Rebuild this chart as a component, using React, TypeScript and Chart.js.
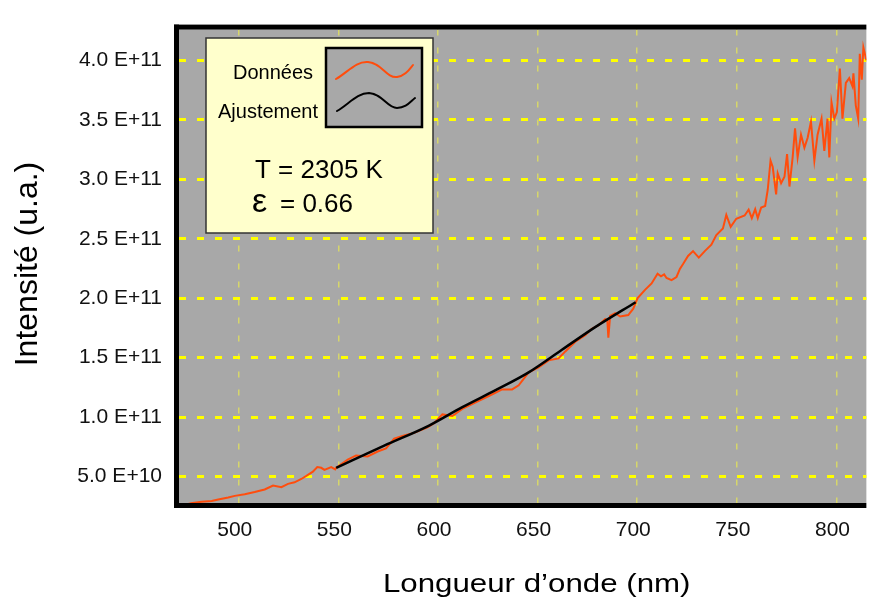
import React, { useEffect, useRef } from "react";
import { Chart, registerables } from "chart.js";

Chart.register(...registerables);

// ---------- data ----------
const UNIT = 1e11; // intensities below are in units of 1E+11

const DATA_NM = [
  470.0, 476.0, 481.4, 486.4, 489.7, 494.7, 498.0, 503.0, 508.0, 513.0,
  517.2, 521.4, 524.7, 528.0, 531.4, 534.7, 537.2, 539.4, 541.4, 543.0,
  546.4, 548.4, 548.9, 554.7, 558.9, 564.7, 569.7, 573.9, 578.0, 583.0,
  588.0, 594.7, 598.0, 602.2, 607.2, 612.2, 618.9, 625.5, 632.2, 637.2,
  640.5, 645.5, 650.5, 655.5, 660.5, 663.9, 668.9, 673.9, 677.2, 680.5,
  683.9, 685.0, 685.5, 686.4, 688.9, 691.4, 695.5, 698.0, 700.2, 703.9,
  707.2, 710.2, 711.9, 713.5, 714.7, 717.2, 719.7, 721.4, 723.0, 725.5,
  728.0, 730.9, 733.9, 737.2, 739.7, 743.0, 744.7, 746.9, 749.7, 753.9,
  755.9, 757.5, 759.2, 760.5, 762.2, 764.2, 765.5, 766.9, 768.0, 769.7,
  770.5, 772.2, 773.9, 775.2, 776.4, 778.0, 779.2, 780.5, 782.2, 783.9,
  785.5, 787.2, 788.9, 790.5, 792.5, 793.9, 795.5, 796.4, 797.5, 798.9,
  800.2, 801.7, 803.0, 804.7, 806.4, 808.0, 808.5, 809.7, 810.9, 811.7,
  812.7, 813.5, 815.0, 816.5,
];
const DATA_I = [
  0.250, 0.274, 0.288, 0.294, 0.307, 0.324, 0.337, 0.351, 0.369, 0.391,
  0.424, 0.410, 0.438, 0.451, 0.479, 0.514, 0.541, 0.579, 0.573, 0.555,
  0.579, 0.560, 0.573, 0.642, 0.677, 0.669, 0.710, 0.737, 0.818, 0.846,
  0.867, 0.914, 0.949, 1.022, 1.009, 1.069, 1.123, 1.177, 1.232, 1.232,
  1.267, 1.376, 1.417, 1.477, 1.493, 1.552, 1.634, 1.689, 1.743, 1.770,
  1.825, 1.811, 1.667, 1.852, 1.874, 1.846, 1.858, 1.911, 2.001, 2.070,
  2.124, 2.205, 2.184, 2.200, 2.170, 2.151, 2.178, 2.246, 2.287, 2.355,
  2.396, 2.341, 2.396, 2.450, 2.531, 2.586, 2.700, 2.600, 2.668, 2.695,
  2.744, 2.673, 2.749, 2.673, 2.763, 2.776, 2.912, 3.157, 3.103, 2.872,
  3.049, 2.967, 3.021, 3.212, 2.939, 3.184, 3.429, 3.184, 3.375, 3.266,
  3.347, 3.484, 3.157, 3.375, 3.510, 3.239, 3.510, 3.184, 3.647, 3.510,
  3.565, 3.932, 3.510, 3.810, 3.851, 3.783, 3.891, 3.620, 3.510, 4.055,
  3.837, 4.109, 4.000, 4.050,
];

const FIT_NM = [548.9, 573.0, 595.5, 612.2, 628.9, 645.5, 662.2, 678.9, 699.2];
const FIT_I = [0.573, 0.759, 0.928, 1.083, 1.226, 1.376, 1.566, 1.756, 1.966];

const X_TICKS = [500, 550, 600, 650, 700, 750, 800];
const Y_TICKS = [0.5, 1.0, 1.5, 2.0, 2.5, 3.0, 3.5, 4.0];
const Y_TICK_LABELS = [
  "5.0 E+10", "1.0 E+11", "1.5 E+11", "2.0 E+11",
  "2.5 E+11", "3.0 E+11", "3.5 E+11", "4.0 E+11",
];

const X_MIN = 470;
const X_MAX = 815;
const Y_MIN = 0.277;
const Y_MAX = 4.259;

const X_TITLE = "Longueur d\u2019onde (nm)";
const Y_TITLE = "Intensité (u.a.)";
const LEGEND_DATA = "Données";
const LEGEND_FIT = "Ajustement";
const T_TEXT = "T = 2305 K";
const EPS_SYMBOL = "ε";
const EPS_VALUE = "= 0.66";

// ---------- styles ----------
const FONT = "'Liberation Sans', Arial, Helvetica, sans-serif";
const PLOT_BG = "#A8A8A8";
const DATA_COLOR = "#FF4D0D";
const FIT_COLOR = "#000000";
const HGRID = "#FFFF00";
const VGRID = "#D6D66A";
const LEGEND_BG = "#FFFFCC";

const decorPlugin = {
  id: "decor",
  beforeDraw(chart: any) {
    const { ctx, chartArea: a } = chart;
    ctx.save();
    ctx.fillStyle = PLOT_BG;
    ctx.fillRect(a.left, a.top, a.right - a.left, a.bottom - a.top);
    ctx.restore();
  },
  afterDraw(chart: any) {
    const { ctx, chartArea: a } = chart;
    ctx.save();
    // frame (left, top, bottom)
    ctx.fillStyle = "#000";
    ctx.fillRect(a.left - 5, a.top - 5, a.right - a.left + 5, 5);
    ctx.fillRect(a.left - 5, a.top - 5, 5, a.bottom - a.top + 10);
    ctx.fillRect(a.left - 5, a.bottom, a.right - a.left + 5, 5);

    // axis titles
    ctx.fillStyle = "#000";
    ctx.textAlign = "center";
    ctx.textBaseline = "alphabetic";
    ctx.save();
    ctx.translate(536.7, 592);
    ctx.scale(1.25, 1);
    ctx.font = `25px ${FONT}`;
    ctx.fillText(X_TITLE, 0, 0);
    ctx.restore();

    ctx.save();
    ctx.translate(36.7, 264);
    ctx.rotate(-Math.PI / 2);
    ctx.font = `32px ${FONT}`;
    ctx.fillText(Y_TITLE, 0, 0);
    ctx.restore();

    // legend box
    ctx.fillStyle = LEGEND_BG;
    ctx.fillRect(206, 38, 227, 195);
    ctx.strokeStyle = "#333";
    ctx.lineWidth = 1.5;
    ctx.strokeRect(206, 38, 227, 195);

    // mini plot box
    ctx.fillStyle = PLOT_BG;
    ctx.fillRect(326, 48, 96, 79);
    ctx.strokeStyle = "#000";
    ctx.lineWidth = 2.5;
    ctx.strokeRect(326, 48, 96, 79);

    ctx.lineCap = "round";
    ctx.lineWidth = 2;
    ctx.strokeStyle = DATA_COLOR;
    ctx.beginPath();
    ctx.moveTo(336, 79);
    ctx.bezierCurveTo(348, 72, 356, 61, 368, 62);
    ctx.bezierCurveTo(382, 63, 386, 78, 397, 77);
    ctx.bezierCurveTo(405, 76, 409, 70, 413, 65);
    ctx.stroke();

    ctx.strokeStyle = FIT_COLOR;
    ctx.beginPath();
    ctx.moveTo(337, 111);
    ctx.bezierCurveTo(349, 104, 357, 93, 369, 93);
    ctx.bezierCurveTo(383, 94, 387, 108, 397, 108);
    ctx.bezierCurveTo(406, 108, 410, 102, 415, 98);
    ctx.stroke();

    // legend texts
    ctx.fillStyle = "#000";
    ctx.textAlign = "left";
    ctx.textBaseline = "alphabetic";
    ctx.font = `20px ${FONT}`;
    ctx.fillText(LEGEND_DATA, 233, 79);
    ctx.fillText(LEGEND_FIT, 218, 118.3);

    ctx.font = `26px ${FONT}`;
    ctx.fillText(T_TEXT, 255, 177.5);

    ctx.font = `34px ${FONT}`;
    ctx.fillText(EPS_SYMBOL, 252, 211.7);
    ctx.font = `26px ${FONT}`;
    ctx.fillText(EPS_VALUE, 280, 211.7);

    ctx.restore();
  },
};

export default function App() {
  const ref = useRef<HTMLCanvasElement | null>(null);

  useEffect(() => {
    if (!ref.current) return;
    const dataPts = DATA_NM.map((x, i) => ({ x, y: DATA_I[i] * UNIT }));
    const fitPts = FIT_NM.map((x, i) => ({ x, y: FIT_I[i] * UNIT }));

    const chart = new Chart(ref.current, {
      type: "scatter",
      data: {
        datasets: [
          {
            label: LEGEND_FIT,
            data: fitPts,
            showLine: true,
            borderColor: FIT_COLOR,
            borderWidth: 2.5,
            pointRadius: 0,
            cubicInterpolationMode: "monotone",
          },
          {
            label: LEGEND_DATA,
            data: dataPts,
            showLine: true,
            borderColor: DATA_COLOR,
            borderWidth: 2,
            pointRadius: 0,
            tension: 0,
          },
        ],
      },
      options: {
        responsive: false,
        animation: false,
        devicePixelRatio: 1,
        layout: { padding: { top: 15, left: 0, right: 0, bottom: 0 } },
        plugins: {
          legend: { display: false },
          tooltip: { enabled: false },
        },
        scales: {
          x: {
            type: "linear",
            min: X_MIN,
            max: X_MAX,
            afterBuildTicks: (s: any) => {
              s.ticks = X_TICKS.map((v) => ({ value: v }));
            },
            afterFit: (s: any) => {
              s.height = 99;
            },
            grid: { color: VGRID, lineWidth: 1.5, drawTicks: false },
            border: { display: false, dash: [6, 12] },
            ticks: {
              font: { family: FONT, size: 21 },
              color: "#111",
              padding: 15,
              labelOffset: -4,
              maxRotation: 0,
              autoSkip: false,
              callback: (v: any) => String(v),
            },
          },
          y: {
            type: "linear",
            min: Y_MIN * UNIT,
            max: Y_MAX * UNIT,
            afterBuildTicks: (s: any) => {
              s.ticks = Y_TICKS.map((v) => ({ value: v * UNIT }));
            },
            afterFit: (s: any) => {
              s.width = 179;
            },
            grid: { color: HGRID, lineWidth: 3, drawTicks: false },
            border: { display: false, dash: [7, 11] },
            ticks: {
              font: { family: FONT, size: 21 },
              color: "#111",
              padding: 17,
              autoSkip: false,
              callback: (_v: any, i: number) => Y_TICK_LABELS[i],
            },
          },
        },
      },
      plugins: [decorPlugin],
    });
    return () => chart.destroy();
  }, []);

  return (
    <div style={{ position: "fixed", left: 0, top: 0, width: 869, height: 602, background: "#fff" }}>
      <canvas ref={ref} width={869} height={602} style={{ display: "block" }} />
    </div>
  );
}
